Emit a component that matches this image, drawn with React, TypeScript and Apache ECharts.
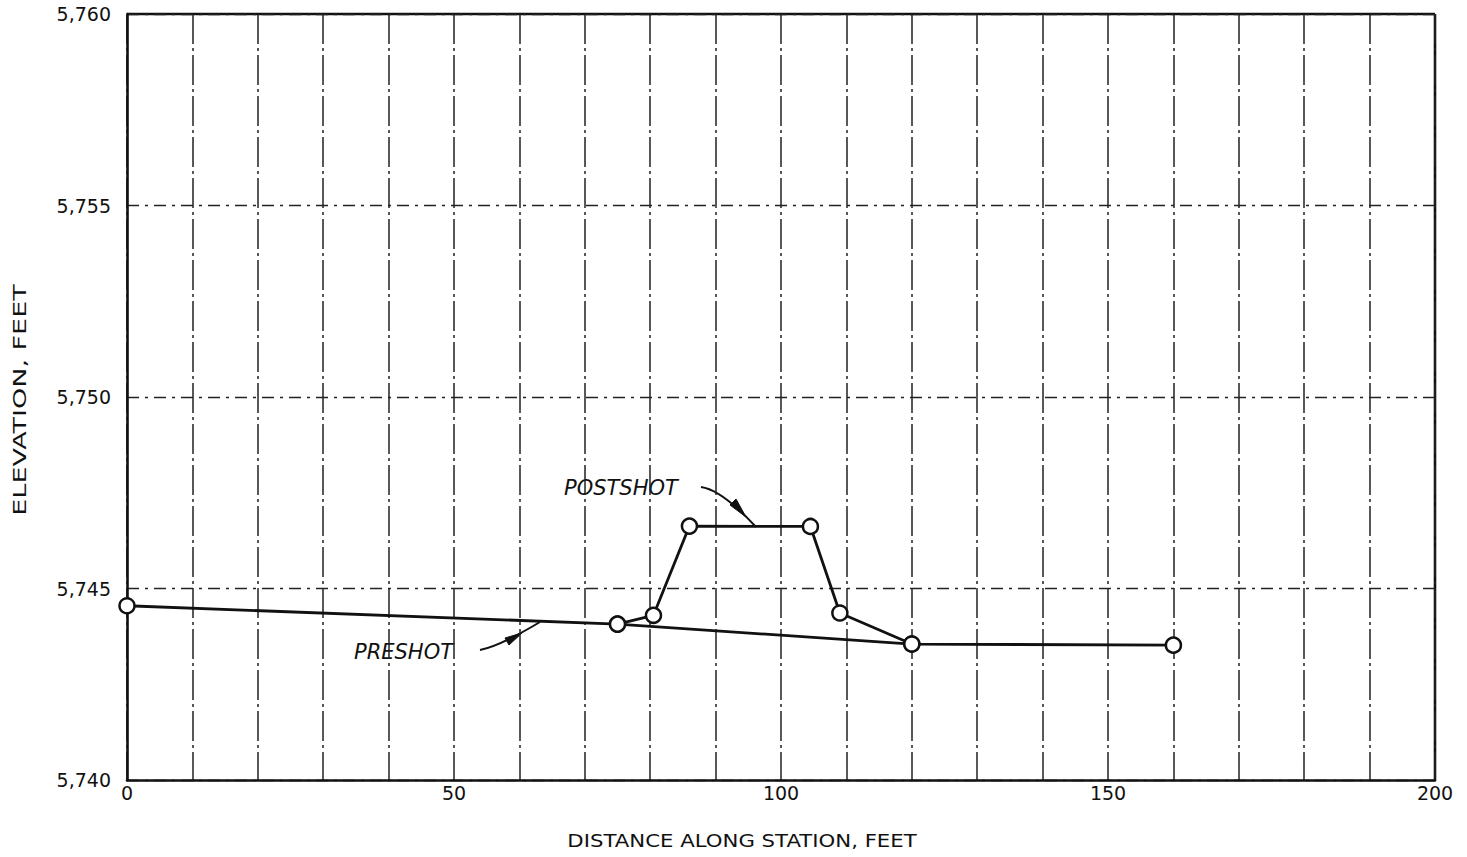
import React, { useEffect, useRef } from "react";
import * as echarts from "echarts";

const preshotX = [0, 75, 120, 160];
const preshotY = [5744.55, 5744.07, 5743.55, 5743.52];
const postshotX = [75, 80.5, 86, 104.5, 109, 120];
const postshotY = [5744.07, 5744.3, 5746.63, 5746.62, 5744.36, 5743.55];

const xName = "DISTANCE ALONG STATION, FEET";
const yName = "ELEVATION, FEET";
const seriesLabels = ["PRESHOT", "POSTSHOT"];

const FONT = "DejaVu Sans";

export default function App() {
  const ref = useRef<HTMLDivElement>(null);
  useEffect(() => {
    const chart = echarts.init(ref.current!, null, { renderer: "svg" });
    const pre = preshotX.map((x, i) => [x, preshotY[i]]);
    const post = postshotX.map((x, i) => [x, postshotY[i]]);
    const lineStyle = { color: "#111", width: 2.8 };
    const itemStyle = { color: "#fff", borderColor: "#111", borderWidth: 2.5 };
    chart.setOption({
      animation: false,
      backgroundColor: "#fff",
      grid: { left: 127, right: 32, top: 14, bottom: 77, containLabel: false },
      xAxis: {
        type: "value",
        min: 0,
        max: 200,
        interval: 10,
        axisLine: { lineStyle: { color: "#111", width: 2.6 } },
        axisTick: { show: false },
        axisLabel: {
          formatter: (v: number) => (v % 50 === 0 ? String(v) : ""),
          fontFamily: FONT,
          fontSize: 19,
          color: "#111",
          margin: 3,
        },
        splitLine: {
          show: true,
          lineStyle: { color: "#222", width: 1.5, type: [30, 4, 3, 4] },
        },
      },
      yAxis: {
        type: "value",
        min: 5740,
        max: 5760,
        interval: 5,
        axisLine: { show: true, lineStyle: { color: "#111", width: 2.6 } },
        axisTick: { show: false },
        axisLabel: {
          formatter: (v: number) => v.toLocaleString("en-US"),
          fontFamily: FONT,
          fontSize: 19,
          color: "#111",
          margin: 16,
        },
        splitLine: {
          show: true,
          lineStyle: { color: "#222", width: 1.3, type: [12, 6, 3, 6] },
        },
      },
      series: [
        {
          name: seriesLabels[0],
          type: "line",
          data: pre,
          symbol: "circle",
          symbolSize: 15,
          showAllSymbol: true,
          lineStyle,
          itemStyle,
          z: 3,
        },
        {
          name: seriesLabels[1],
          type: "line",
          data: post,
          symbol: "circle",
          symbolSize: 15,
          showAllSymbol: true,
          lineStyle,
          itemStyle,
          z: 4,
        },
      ],
      graphic: [
        {
          type: "line",
          shape: { x1: 127, y1: 14, x2: 1435, y2: 14 },
          style: { stroke: "#111", lineWidth: 2.6 },
        },
        {
          type: "line",
          shape: { x1: 1435, y1: 14, x2: 1435, y2: 780 },
          style: { stroke: "#111", lineWidth: 2.6 },
        },
        {
          type: "text",
          x: 742,
          y: 841,
          scaleX: 1.25,
          style: {
            text: xName,
            font: `17px ${FONT}`,
            fill: "#111",
            align: "center",
            verticalAlign: "middle",
          },
        },
        {
          type: "text",
          x: 20,
          y: 400,
          rotation: Math.PI / 2,
          scaleX: 1.5,
          style: {
            text: yName,
            font: `18px ${FONT}`,
            fill: "#111",
            align: "center",
            verticalAlign: "middle",
          },
        },
        {
          type: "text",
          x: 564,
          y: 477,
          style: {
            text: seriesLabels[1],
            font: `italic 21px ${FONT}`,
            fill: "#111",
          },
        },
        {
          type: "bezierCurve",
          shape: { x1: 701, y1: 487, cpx1: 722, cpy1: 490, x2: 756, y2: 527 },
          style: { stroke: "#111", lineWidth: 2, fill: null },
        },
        {
          type: "polygon",
          shape: { points: [[736, 499], [746, 517], [730, 505]] },
          style: { fill: "#111", stroke: "#111", lineWidth: 1 },
        },
        {
          type: "text",
          x: 354,
          y: 641,
          style: {
            text: seriesLabels[0],
            font: `italic 21px ${FONT}`,
            fill: "#111",
          },
        },
        {
          type: "bezierCurve",
          shape: { x1: 480, y1: 650, cpx1: 500, cpy1: 646, x2: 540, y2: 622 },
          style: { stroke: "#111", lineWidth: 2, fill: null },
        },
        {
          type: "polygon",
          shape: { points: [[509, 645], [522, 633], [505, 638]] },
          style: { fill: "#111", stroke: "#111", lineWidth: 1 },
        },
      ],
    });
    return () => chart.dispose();
  }, []);
  return (
    <div
      ref={ref}
      style={{ position: "fixed", left: 0, top: 0, width: 1467, height: 857 }}
    />
  );
}
